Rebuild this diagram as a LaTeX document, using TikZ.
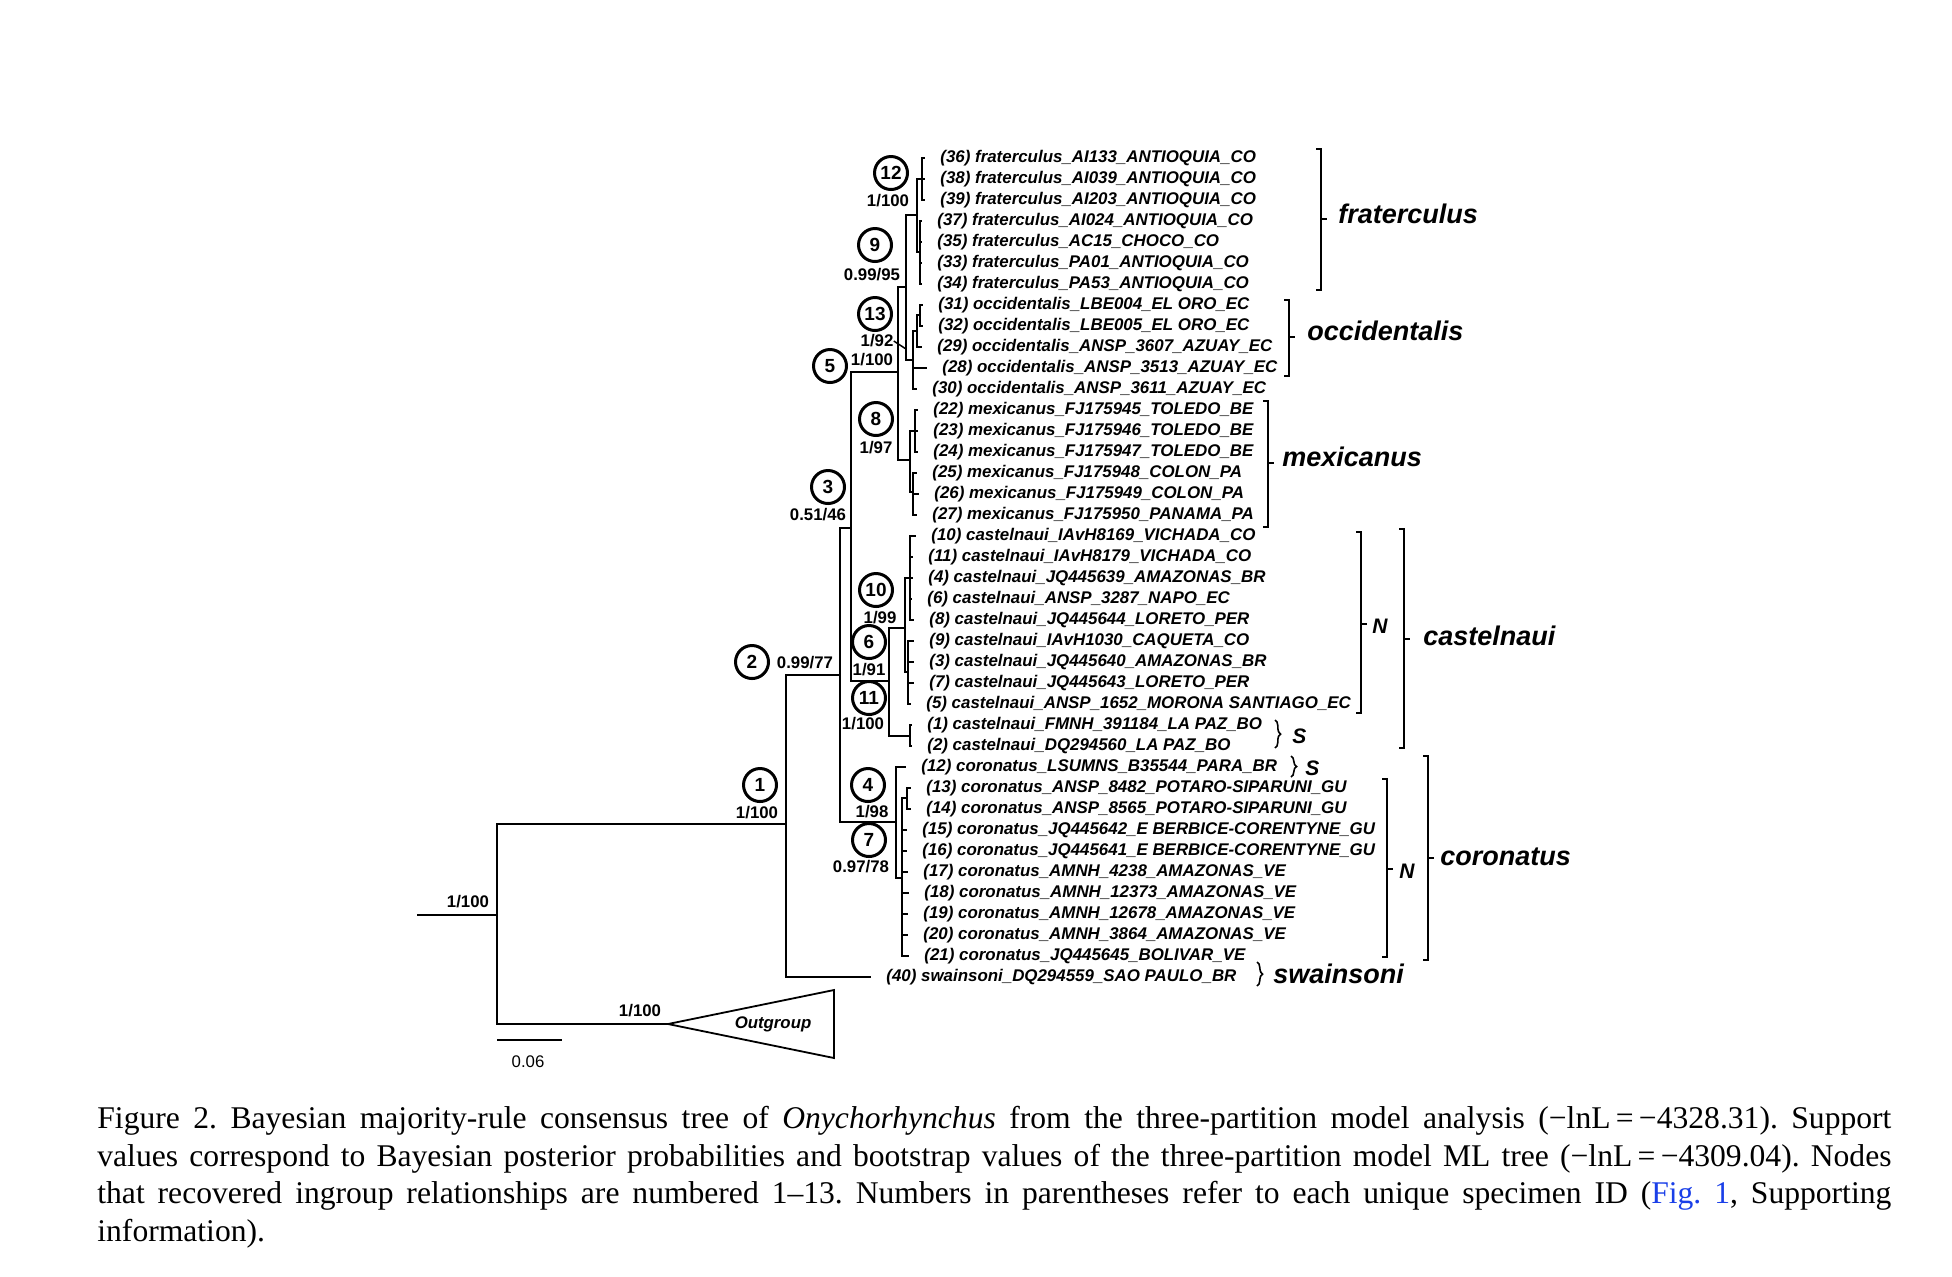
\documentclass[tikz,border=0pt]{standalone}
\usepackage{fontspec}
\setmainfont{Liberation Serif}
\setsansfont{Liberation Sans}
\usetikzlibrary{decorations.pathreplacing}
\definecolor{figblue}{HTML}{1A3FE8}
% square bracket beside a clade: x, top, bottom, tick
\newcommand{\cladebar}[4]{%
  \draw[bracket] ({#1-5},#2) -- (#1,#2) -- (#1,#3) -- ({#1-5},#3);
  \draw[bracket] (#1,#4) -- ({#1+6},#4);
}

\begin{document}
\begin{tikzpicture}[x=0.5pt, y=-0.5pt,
  every node/.style={font=\sffamily},
  branch/.style={line width=0.9pt},
  bracket/.style={line width=0.75pt},
  sbrace/.style={line width=0.8pt, decorate, decoration={brace, amplitude=2.8pt}},
  taxon/.style={anchor=west, inner sep=0pt, font=\sffamily\bfseries\itshape\fontsize{8.45}{9}\selectfont},
  support/.style={inner sep=0pt, font=\sffamily\bfseries\fontsize{8.4}{9}\selectfont},
  nodenum/.style={circle, draw, line width=1.5pt, minimum size=16.5pt, inner sep=0pt, font=\sffamily\bfseries\fontsize{9.5}{9.5}\selectfont},
  clade/.style={anchor=west, inner sep=0pt, font=\sffamily\bfseries\itshape\fontsize{13.5}{14}\selectfont},
  popn/.style={anchor=west, inner sep=0pt, font=\sffamily\bfseries\itshape\fontsize{10.5}{11}\selectfont},
]
\useasboundingbox (0,0) rectangle (1952,1276);

% internal nodes of the tree
\coordinate (root) at (417,915);
\coordinate (n0) at (497,915);
\coordinate (n1) at (786,824);
\coordinate (og) at (668,1024);
\coordinate (n2) at (840,675);
\coordinate (n3) at (851,528);
\coordinate (n4) at (896,822);
\coordinate (n5) at (898,372);
\coordinate (n6) at (889,681);
\coordinate (n7) at (902,878);
\coordinate (n8) at (910,460);
\coordinate (n9) at (906,287);
\coordinate (n10) at (905,628);
\coordinate (n11) at (910,736);
\coordinate (n12) at (922,179);
\coordinate (nfr) at (917,215);
\coordinate (nfrb) at (920,252);
\coordinate (nocc) at (913,360);
\coordinate (noca) at (917,331);
\coordinate (nocb) at (920,315);
\coordinate (nmxa) at (915,431);
\coordinate (nmxb) at (913,492);
\coordinate (ncsa) at (910,578);
\coordinate (ncsb) at (908,672);
\coordinate (ncra) at (907,798);

\draw[branch] (root) -- (n0);
\draw[branch] (n0) |- (n1);
\draw[branch] (n0) |- (og);
\draw[branch] (n1) |- (n2);
\draw[branch] (n2) |- (n3);
\draw[branch] (n2) |- (n4);
\draw[branch] (n3) |- (n5);
\draw[branch] (n3) |- (n6);
\draw[branch] (n5) |- (n9);
\draw[branch] (n5) |- (n8);
\draw[branch] (n9) |- (nfr);
\draw[branch] (n9) |- (nocc);
\draw[branch] (nfr) |- (n12);
\draw[branch] (nfr) |- (nfrb);
\draw[branch] (nocc) |- (noca);
\draw[branch] (noca) |- (nocb);
\draw[branch] (n8) |- (nmxa);
\draw[branch] (n8) |- (nmxb);
\draw[branch] (n6) |- (n10);
\draw[branch] (n6) |- (n11);
\draw[branch] (n10) |- (ncsa);
\draw[branch] (n10) |- (ncsb);
\draw[branch] (n4) |- (n7);
\draw[branch] (n7) |- (ncra);

% tips: row / tip x / parent / label
\foreach \row/\tx/\pn/\txt in {
  0/925/n12/{(36) fraterculus\_AI133\_ANTIOQUIA\_CO},
  1/925/n12/{(38) fraterculus\_AI039\_ANTIOQUIA\_CO},
  2/925/n12/{(39) fraterculus\_AI203\_ANTIOQUIA\_CO},
  3/922/nfrb/{(37) fraterculus\_AI024\_ANTIOQUIA\_CO},
  4/922/nfrb/{(35) fraterculus\_AC15\_CHOCO\_CO},
  5/922/nfrb/{(33) fraterculus\_PA01\_ANTIOQUIA\_CO},
  6/922/nfrb/{(34) fraterculus\_PA53\_ANTIOQUIA\_CO},
  7/923/nocb/{(31) occidentalis\_LBE004\_EL ORO\_EC},
  8/923/nocb/{(32) occidentalis\_LBE005\_EL ORO\_EC},
  9/922/noca/{(29) occidentalis\_ANSP\_3607\_AZUAY\_EC},
  10/927/nocc/{(28) occidentalis\_ANSP\_3513\_AZUAY\_EC},
  11/917/nocc/{(30) occidentalis\_ANSP\_3611\_AZUAY\_EC},
  12/918/nmxa/{(22) mexicanus\_FJ175945\_TOLEDO\_BE},
  13/918/nmxa/{(23) mexicanus\_FJ175946\_TOLEDO\_BE},
  14/918/nmxa/{(24) mexicanus\_FJ175947\_TOLEDO\_BE},
  15/917/nmxb/{(25) mexicanus\_FJ175948\_COLON\_PA},
  16/919/nmxb/{(26) mexicanus\_FJ175949\_COLON\_PA},
  17/917/nmxb/{(27) mexicanus\_FJ175950\_PANAMA\_PA},
  18/916/ncsa/{(10) castelnaui\_IAvH8169\_VICHADA\_CO},
  19/913/ncsa/{(11) castelnaui\_IAvH8179\_VICHADA\_CO},
  20/913/ncsa/{(4) castelnaui\_JQ445639\_AMAZONAS\_BR},
  21/912/ncsa/{(6) castelnaui\_ANSP\_3287\_NAPO\_EC},
  22/914/ncsa/{(8) castelnaui\_JQ445644\_LORETO\_PER},
  23/914/ncsb/{(9) castelnaui\_IAvH1030\_CAQUETA\_CO},
  24/914/ncsb/{(3) castelnaui\_JQ445640\_AMAZONAS\_BR},
  25/914/ncsb/{(7) castelnaui\_JQ445643\_LORETO\_PER},
  26/911/ncsb/{(5) castelnaui\_ANSP\_1652\_MORONA SANTIAGO\_EC},
  27/912/n11/{(1) castelnaui\_FMNH\_391184\_LA PAZ\_BO},
  28/912/n11/{(2) castelnaui\_DQ294560\_LA PAZ\_BO},
  29/906/n4/{(12) coronatus\_LSUMNS\_B35544\_PARA\_BR},
  30/911/ncra/{(13) coronatus\_ANSP\_8482\_POTARO-SIPARUNI\_GU},
  31/911/ncra/{(14) coronatus\_ANSP\_8565\_POTARO-SIPARUNI\_GU},
  32/907/n7/{(15) coronatus\_JQ445642\_E BERBICE-CORENTYNE\_GU},
  33/907/n7/{(16) coronatus\_JQ445641\_E BERBICE-CORENTYNE\_GU},
  34/908/n7/{(17) coronatus\_AMNH\_4238\_AMAZONAS\_VE},
  35/909/n7/{(18) coronatus\_AMNH\_12373\_AMAZONAS\_VE},
  36/908/n7/{(19) coronatus\_AMNH\_12678\_AMAZONAS\_VE},
  37/908/n7/{(20) coronatus\_AMNH\_3864\_AMAZONAS\_VE},
  38/909/n7/{(21) coronatus\_JQ445645\_BOLIVAR\_VE},
  39/871/n1/{(40) swainsoni\_DQ294559\_SAO PAULO\_BR}} {
  \coordinate (t\row) at (\tx,{158+21*\row});
  \draw[branch] (\pn) |- (t\row);
  \node[taxon] (l\row) at ([xshift=7.5pt]t\row) {\txt};
}

% outgroup and scale
\coordinate (ogtop) at (834,990);
\coordinate (ogbot) at (834,1058);
\draw[branch] (og) -- (ogtop) -- (ogbot) -- cycle;
\node[support, font=\sffamily\bfseries\itshape\fontsize{8.4}{9}\selectfont] (outg) at (773,1024) {Outgroup};
\coordinate (sba) at (497,1040);
\coordinate (sbb) at (562,1040);
\draw[branch] (sba) -- (sbb);
\node[inner sep=0pt, font=\sffamily\fontsize{8.4}{9}\selectfont] (sbl) at (528,1062) {0.06};

% support values and numbered nodes
\node[support] (sroot) at (468,902) {1/100};
\node[support] (sog) at (640,1011) {1/100};
\node[nodenum] (c1) at (760,785) {1};
\node[support] (s1) at (757,813) {1/100};
\node[nodenum] (c2) at (752,662) {2};
\node[support] (s2) at (805,663) {0.99/77};
\node[nodenum] (c3) at (828,487) {3};
\node[support] (s3) at (818,515) {0.51/46};
\node[nodenum] (c4) at (868,785) {4};
\node[support] (s4) at (872,812) {1/98};
\node[nodenum] (c5) at (830,366) {5};
\node[support] (s5) at (872,360) {1/100};
\node[nodenum] (c6) at (869,642) {6};
\node[support] (s6) at (869,670) {1/91};
\node[nodenum] (c7) at (869,840) {7};
\node[support] (s7) at (861,867) {0.97/78};
\node[nodenum] (c8) at (876,419) {8};
\node[support] (s8) at (876,448) {1/97};
\node[nodenum] (c9) at (875,245) {9};
\node[support] (s9) at (872,275) {0.99/95};
\node[nodenum] (c10) at (876,590) {10};
\node[support] (s10) at (880,618) {1/99};
\node[nodenum] (c11) at (869,698) {11};
\node[support] (s11) at (863,724) {1/100};
\node[nodenum] (c12) at (891,173) {12};
\node[support] (s12) at (888,201) {1/100};
\node[nodenum] (c13) at (875,314) {13};
\node[support] (s13) at (877,341) {1/92};
\coordinate (p13) at (906,349);
\draw[bracket] (s13.east) -- (p13);

% clade brackets and names
\cladebar{1321}{149}{290}{219}
\cladebar{1289}{300}{376}{337}
\cladebar{1268}{401}{527}{463}
\cladebar{1361}{532}{713}{624}
\cladebar{1404}{529}{748}{639}
\cladebar{1387}{779}{957}{869}
\cladebar{1428}{756}{960}{858}
\draw[sbrace] (1275,720) -- (1275,748);
\draw[sbrace] (1291,756) -- (1291,777);
\draw[sbrace] (1257,962) -- (1257,986);
\node[clade] (kfra) at (1338,214) {fraterculus};
\node[clade] (kocc) at (1307,331) {occidentalis};
\node[clade] (kmex) at (1282,457) {mexicanus};
\node[clade] (kcas) at (1423,636) {castelnaui};
\node[clade] (kcor) at (1440,857) {coronatus};
\node[clade] (kswa) at (1273,974) {swainsoni};
\node[popn] (pcn) at (1372,626) {N};
\node[popn] (pcs) at (1292,736) {S};
\node[popn] (prs) at (1305,768) {S};
\node[popn] (prn) at (1399,871) {N};

% caption
\node[anchor=north west, inner sep=0pt, text width=897pt, align=justify,
  font=\rmfamily\frenchspacing\fontsize{15.8}{18.75}\selectfont] (caption) at (97,1106)
  {Figure 2. Bayesian majority-rule consensus tree of \textit{Onychorhynchus} from the three-partition model analysis (−lnL\,=\,−4328.31). Support\linebreak
  values correspond to Bayesian posterior probabilities and bootstrap values of the three-partition model ML tree (−lnL\,=\,−4309.04). Nodes\linebreak
  that recovered ingroup relationships are numbered 1--13. Numbers in parentheses refer to each unique specimen ID (\textcolor{figblue}{Fig.~1}, Supporting\linebreak
  information).};
\end{tikzpicture}
\end{document}
